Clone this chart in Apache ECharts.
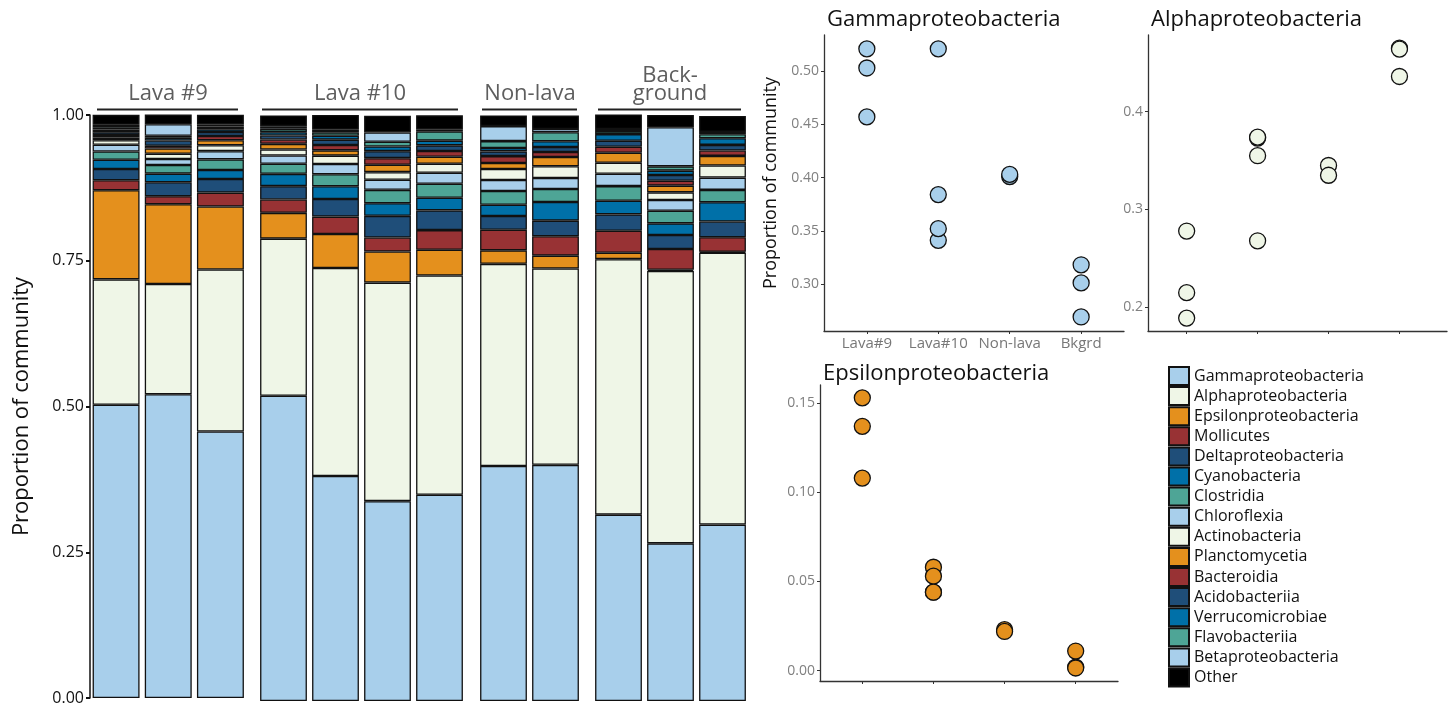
<!DOCTYPE html>
<html><head><meta charset="utf-8">
<script src="https://cdn.jsdelivr.net/npm/echarts@6/dist/echarts.min.js"></script>
<style>html,body{margin:0;padding:0;background:#fff}#c{width:1455px;height:706px}</style>
</head><body><div id="c"></div>
<script>
// ---------- data ----------
const samples = ['L9-1','L9-2','L9-3','L10-1','L10-2','L10-3','L10-4','NL-1','NL-2','BG-1','BG-2','BG-3'];
const sampleGroup = [0,0,0,1,1,1,1,2,2,3,3,3];
const groupNames = ['Lava#9','Lava#10','Non-lava','Bkgrd'];
const groupLabels = ['Lava #9','Lava #10','Non-lava','Back-\nground'];
const taxa = ['Gammaproteobacteria','Alphaproteobacteria','Epsilonproteobacteria','Mollicutes','Deltaproteobacteria','Cyanobacteria','Clostridia','Chloroflexia','Actinobacteria','Planctomycetia','Bacteroidia','Acidobacteriia','Verrucomicrobiae','Flavobacteriia','Betaproteobacteria','Other'];

const gamma        = [0.503, 0.521, 0.457, 0.521, 0.384, 0.341, 0.352, 0.401, 0.403, 0.318, 0.269, 0.301];
const alpha        = [0.215, 0.189, 0.278, 0.268, 0.355, 0.373, 0.374, 0.345, 0.335, 0.436, 0.465, 0.464];
const epsilon      = [0.153, 0.137, 0.108, 0.044, 0.058, 0.053, 0.044, 0.023, 0.022, 0.011, 0.002, 0.0015];
const mollicutes   = [0.0171, 0.0137, 0.0239, 0.0228, 0.0296, 0.0239, 0.0336, 0.0353, 0.0330, 0.0375, 0.0353, 0.0250];
const delta        = [0.0193, 0.0239, 0.0233, 0.0228, 0.0301, 0.0370, 0.0336, 0.0233, 0.0267, 0.0279, 0.0239, 0.0267];
const cyano        = [0.0159, 0.0148, 0.0154, 0.0210, 0.0216, 0.0216, 0.0216, 0.0193, 0.0319, 0.0233, 0.0199, 0.0330];
const clostridia   = [0.0142, 0.0148, 0.0182, 0.0171, 0.0205, 0.0228, 0.0239, 0.0233, 0.0222, 0.0250, 0.0216, 0.0210];
const chloroflexia = [0.0114, 0.0102, 0.0142, 0.0142, 0.0176, 0.0171, 0.0188, 0.0188, 0.0188, 0.0210, 0.0182, 0.0210];
const actino       = [0.0080, 0.0091, 0.0102, 0.0102, 0.0142, 0.0131, 0.0154, 0.0188, 0.0199, 0.0188, 0.0131, 0.0205];
const plancto      = [0.0046, 0.0091, 0.0085, 0.0097, 0.0091, 0.0125, 0.0119, 0.0102, 0.0159, 0.0171, 0.0114, 0.0165];
const bacteroidia  = [0.0040, 0.0046, 0.0074, 0.0074, 0.0091, 0.0114, 0.0097, 0.0119, 0.0085, 0.0102, 0.0085, 0.0091];
const acido        = [0.0051, 0.0091, 0.0068, 0.0068, 0.0091, 0.0119, 0.0097, 0.0080, 0.0085, 0.0102, 0.0097, 0.0097];
const verruco      = [0.0046, 0.0046, 0.0046, 0.0057, 0.0068, 0.0080, 0.0080, 0.0057, 0.0097, 0.0114, 0.0074, 0.0114];
const flavo        = [0.0040, 0.0034, 0.0046, 0.0057, 0.0057, 0.0080, 0.0159, 0.0119, 0.0154, 0.0051, 0.0074, 0.0068];
const beta         = [0.0040, 0.0199, 0.0040, 0.0046, 0.0046, 0.0159, 0.0034, 0.0256, 0.0057, 0.0034, 0.0666, 0.0040];
const other        = [0.0171, 0.0165, 0.0165, 0.0182, 0.0250, 0.0284, 0.0239, 0.0182, 0.0228, 0.0250, 0.0210, 0.0273];

const mainTicks = [0, 0.25, 0.5, 0.75, 1];
const gammaTicks = [0.30, 0.35, 0.40, 0.45, 0.50];
const alphaTicks = [0.2, 0.3, 0.4];
const epsTicks = [0.00, 0.05, 0.10, 0.15];

// ---------- styling ----------
const taxonValues = [gamma, alpha, epsilon, mollicutes, delta, cyano, clostridia, chloroflexia, actino, plancto, bacteroidia, acido, verruco, flavo, beta, other];
const C = {lb:'#a8cfeb', pale:'#eff6e7', or:'#e4901d', red:'#983234', db:'#1f4e79', bl:'#0070a8', te:'#4ea596', bk:'#000000'};
const taxonColors = [C.lb,C.pale,C.or,C.red,C.db,C.bl,C.te,C.lb,C.pale,C.or,C.red,C.db,C.bl,C.te,C.lb,C.bk];
const FONT = '"Open Sans", "Noto Sans", sans-serif';

const barGrids = [
  {left:90, width:156.5},
  {left:257.5, width:208},
  {left:477.5, width:104},
  {left:592.5, width:156}
];
const grid = barGrids.map(g => ({left:g.left, width:g.width, top:115, height:586}));
grid.push({left:824, top:35, width:300, height:296});   // gamma
grid.push({left:1148, top:35, width:299, height:296});  // alpha
grid.push({left:820, top:385, width:298, height:296});  // epsilon

const xAxis = [], yAxis = [], series = [];
for (let g = 0; g < 4; g++) {
  const idx = samples.map((s,i)=>i).filter(i => sampleGroup[i] === g);
  xAxis.push({type:'category', gridIndex:g, data: idx.map(i=>samples[i]), show:false});
  yAxis.push({
    type:'value', gridIndex:g, min:0, max:1, interval:0.25, show: g===0,
    name: g===0 ? 'Proportion of community' : '', nameLocation:'middle', nameGap:57,
    nameTextStyle:{fontFamily:FONT, fontSize:22, color:'#111'},
    axisLine:{show:true, lineStyle:{color:'#111', width:1.5}},
    axisTick:{show:true, length:4, lineStyle:{color:'#111', width:2}},
    axisLabel:{fontFamily:FONT, fontSize:16, color:'#111', margin:6, formatter:v=>v.toFixed(2)},
    splitLine:{show:false}
  });
  taxa.forEach((t, k) => {
    series.push({
      type:'bar', name:t, xAxisIndex:g, yAxisIndex:g, stack:'s'+g,
      barCategoryGap:'10%', clip:false,
      itemStyle:{color:taxonColors[k], borderColor:'#111', borderWidth:1.3},
      emphasis:{disabled:true},
      data: idx.map(i => taxonValues[k][i])
    });
  });
}

function scatterPanel(gi, values, color, ymin, ymax, ticks, xmin, xmax, showX, yname, tickFmt) {
  xAxis.push({
    type:'value', gridIndex:gi, min:xmin, max:xmax,
    axisLine:{show:true, onZero:false, lineStyle:{color:'#333', width:1.3}},
    axisTick:{show:true, customValues:[1,2,3,4], length:3, lineStyle:{color:'#333'}},
    axisLabel:{show:showX, customValues:[1,2,3,4], formatter:v=>groupNames[Math.round(v)-1], fontFamily:FONT, fontSize:15, color:'#777', margin:5},
    splitLine:{show:false}
  });
  yAxis.push({
    type:'value', gridIndex:gi, min:ymin, max:ymax,
    name:yname, nameLocation:'middle', nameGap:44,
    nameTextStyle:{fontFamily:FONT, fontSize:18, color:'#111'},
    axisLine:{show:true, onZero:false, lineStyle:{color:'#333', width:1.3}},
    axisTick:{show:true, customValues:ticks, length:3, lineStyle:{color:'#333'}},
    axisLabel:{customValues:ticks, formatter:tickFmt, fontFamily:FONT, fontSize:14, color:'#808080', margin:5},
    splitLine:{show:false}
  });
  series.push({
    type:'scatter', name:'pts'+gi, xAxisIndex:gi, yAxisIndex:gi, symbolSize:16,
    itemStyle:{color:color, borderColor:'#111', borderWidth:1.3, opacity:1},
    emphasis:{disabled:true},
    data: values.map((v,i) => [sampleGroup[i]+1, v])
  });
}
scatterPanel(4, gamma, C.lb, 0.2558, 0.534, gammaTicks, 0.4, 4.6, true, 'Proportion of community', v=>v.toFixed(2));
scatterPanel(5, alpha, C.pale, 0.1758, 0.4784, alphaTicks, 0.455, 4.67, false, '', v=>v.toFixed(1));
scatterPanel(6, epsilon, C.or, -0.0058, 0.1602, epsTicks, 0.405, 4.595, false, '', v=>v.toFixed(2));

const titleStyle = {fontFamily:FONT, fontSize:22, fontWeight:'normal', color:'#111'};
const title = [
  {text:'Gammaproteobacteria', left:822, top:4, textStyle:titleStyle},
  {text:'Alphaproteobacteria', left:1146, top:4, textStyle:titleStyle},
  {text:'Epsilonproteobacteria', left:818, top:358, textStyle:titleStyle}
];

// group headers above the bar facets
const headerX = [168, 360, 530, 670];
const lineSpan = [[97,238],[262,458],[482,577],[598,741]];
const graphic = [];
groupLabels.forEach((lab, i) => {
  graphic.push({type:'text', x:headerX[i], y: 103, style:{text:lab, fontFamily:FONT, fontSize:22, fill:'#5e5e5e', textAlign:'center', textVerticalAlign:'bottom', lineHeight:18}});
  graphic.push({type:'line', shape:{x1:lineSpan[i][0], y1:109.5, x2:lineSpan[i][1], y2:109.5}, style:{stroke:'#222', lineWidth:2}});
});

const chart = echarts.init(document.getElementById('c'), null, {renderer:'canvas'});
chart.setOption({
  animation:false,
  backgroundColor:'#fff',
  title, grid, xAxis, yAxis, series, graphic,
  legend:{
    data:taxa, orient:'vertical', left:1163, top:361,
    itemWidth:20, itemHeight:18, itemGap:0.1, icon:'rect',
    textStyle:{fontFamily:FONT, fontSize:16, color:'#111', lineHeight:20},
    selectedMode:false
  },
  tooltip:{show:false}
});
</script></body></html>
